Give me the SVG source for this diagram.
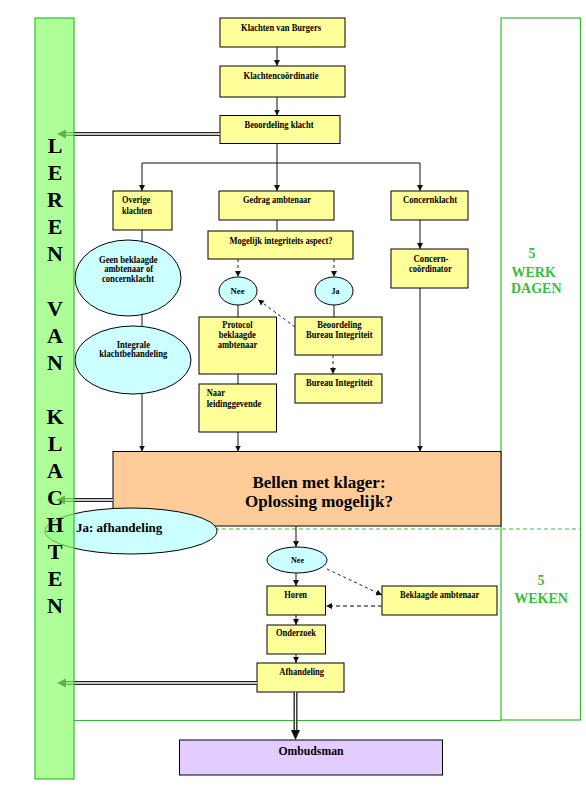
<svg xmlns="http://www.w3.org/2000/svg" width="586" height="787" viewBox="0 0 586 787">
<defs>
<marker id="ah" markerUnits="userSpaceOnUse" markerWidth="7" markerHeight="7" refX="6" refY="3.5" orient="auto"><path d="M0,0.5 L6,3.5 L0,6.5 z" fill="#111"/></marker>
<style>
.bx{fill:#FFFF99;stroke:#000;stroke-width:1}
.el{fill:#CCFFFF;stroke:#000;stroke-width:1}
.t{font-family:"Liberation Serif","Times New Roman",serif;font-weight:bold;font-size:10px;fill:#000}
.m{text-anchor:middle}
.c{stroke:#111;stroke-width:1;fill:none}
.d{stroke:#222;stroke-width:1;fill:none;stroke-dasharray:3,3}
.big{font-family:"Liberation Serif","Times New Roman",serif;font-weight:bold;fill:#000}
.g{font-family:"Liberation Serif","Times New Roman",serif;font-weight:bold;font-size:14px;fill:#3DBB3D}
.dl{stroke:#222;stroke-width:4;fill:none}
.dw{stroke:#fff;stroke-width:1.3;fill:none}
</style>
</defs>
<rect width="586" height="787" fill="#fff"/>

<g id="frame">
<rect x="501" y="18" width="79.5" height="702" fill="none" stroke="#33BB33" stroke-width="1.2"/>
<line x1="74" y1="720.5" x2="501" y2="720.5" stroke="#33BB33" stroke-width="1.2"/>
<line x1="75" y1="529" x2="580" y2="529" stroke="#88CC88" stroke-width="1.5" stroke-dasharray="4,3"/>
<text class="g" x="528.5" y="258">5</text>
<text class="g" x="511.5" y="276.5">WERK</text>
<text class="g" x="511" y="293">DAGEN</text>
<text class="g m" x="541" y="585">5</text>
<text class="g m" x="541" y="602.5">WEKEN</text>
</g>

<g id="n_burgers"><rect class="bx" x="220" y="18" width="125" height="29"/><text class="t m" x="281" y="31" textLength="80" lengthAdjust="spacingAndGlyphs">Klachten van Burgers</text></g>
<g id="n_coord"><rect class="bx" x="220" y="66" width="125" height="31"/><text class="t m" x="281" y="79" textLength="75" lengthAdjust="spacingAndGlyphs">Klachtencoördinatie</text></g>
<g id="n_beoord"><rect class="bx" x="220" y="115.5" width="120" height="28"/><text class="t m" x="279" y="128" textLength="69" lengthAdjust="spacingAndGlyphs">Beoordeling klacht</text></g>
<g id="n_overige"><rect class="bx" x="113" y="191" width="59" height="39"/><text class="t" x="122" y="203" textLength="28.3" lengthAdjust="spacingAndGlyphs">Overige</text><text class="t" x="122" y="214" textLength="30" lengthAdjust="spacingAndGlyphs">klachten</text></g>
<g id="n_gedrag"><rect class="bx" x="219" y="191" width="115" height="29"/><text class="t m" x="277" y="203" textLength="68" lengthAdjust="spacingAndGlyphs">Gedrag ambtenaar</text></g>
<g id="n_concern"><rect class="bx" x="391" y="191" width="77" height="29"/><text class="t m" x="430" y="203" textLength="54" lengthAdjust="spacingAndGlyphs">Concernklacht</text></g>
<g id="n_mogelijk"><rect class="bx" x="208" y="231" width="145" height="28"/><text class="t m" x="281" y="243.5" textLength="103" lengthAdjust="spacingAndGlyphs">Mogelijk integriteits aspect?</text></g>
<g id="n_geen"><ellipse class="el" cx="128" cy="278" rx="53" ry="38"/><text class="t m" x="128.3" y="262.7" textLength="58.7" lengthAdjust="spacingAndGlyphs">Geen beklaagde</text><text class="t m" x="128.7" y="272.2" textLength="49" lengthAdjust="spacingAndGlyphs">ambtenaar of</text><text class="t m" x="128" y="282" textLength="52" lengthAdjust="spacingAndGlyphs">concernklacht</text></g>
<g id="n_nee1"><ellipse class="el" cx="238" cy="291" rx="19" ry="14"/><text class="t m" x="237.5" y="293.5" style="font-size:9px" textLength="14" lengthAdjust="spacingAndGlyphs">Nee</text></g>
<g id="n_ja"><ellipse class="el" cx="334" cy="291" rx="19" ry="14"/><text class="t m" x="335.5" y="293.5" style="font-size:8px">Ja</text></g>
<g id="n_concoord"><rect class="bx" x="391" y="249" width="77" height="39"/><text class="t m" x="431" y="262" textLength="35" lengthAdjust="spacingAndGlyphs">Concern-</text><text class="t m" x="430.3" y="271.5" textLength="42.7" lengthAdjust="spacingAndGlyphs">coördinator</text></g>
<g id="n_integrale"><ellipse class="el" cx="133" cy="360" rx="58" ry="34"/><text class="t m" x="133.3" y="347.7" textLength="33.3" lengthAdjust="spacingAndGlyphs">Integrale</text><text class="t m" x="133.3" y="357.3" textLength="68" lengthAdjust="spacingAndGlyphs">klachtbehandeling</text></g>
<g id="n_protocol"><rect class="bx" x="199" y="317" width="77.5" height="57"/><text class="t m" x="237.5" y="328.3" textLength="30.3" lengthAdjust="spacingAndGlyphs">Protocol</text><text class="t m" x="237.3" y="338.3" textLength="37.3" lengthAdjust="spacingAndGlyphs">beklaagde</text><text class="t m" x="237.5" y="348.3" textLength="39.7" lengthAdjust="spacingAndGlyphs">ambtenaar</text></g>
<g id="n_naar"><rect class="bx" x="199" y="384" width="77.5" height="48"/><text class="t" x="206.7" y="396.3" textLength="18.3" lengthAdjust="spacingAndGlyphs">Naar</text><text class="t" x="206.7" y="406.5" textLength="54.7" lengthAdjust="spacingAndGlyphs">leidinggevende</text></g>
<g id="n_beoordbi"><rect class="bx" x="295" y="317" width="87" height="38"/><text class="t m" x="339.5" y="328.3" textLength="44.3" lengthAdjust="spacingAndGlyphs">Beoordeling</text><text class="t m" x="339.3" y="338.3" textLength="66.7" lengthAdjust="spacingAndGlyphs">Bureau Integriteit</text></g>
<g id="n_bi"><rect class="bx" x="295" y="374" width="87" height="29"/><text class="t m" x="339.3" y="386" textLength="66.7" lengthAdjust="spacingAndGlyphs">Bureau Integriteit</text></g>
<g id="n_bellen"><rect x="113" y="451.5" width="388" height="74.5" fill="#FFCC99" stroke="#000" stroke-width="1"/><text class="big m" x="319" y="487.5" font-size="17">Bellen met klager:</text><text class="big m" x="319" y="507" font-size="17">Oplossing mogelijk?</text></g>
<g id="n_ja_afh"><ellipse class="el" cx="131" cy="531" rx="86" ry="23"/><text class="big" x="76" y="532" font-size="13">Ja: afhandeling</text></g>
<g id="n_nee2"><ellipse class="el" cx="297" cy="560" rx="30" ry="13"/><text class="t m" x="297.5" y="562.5" style="font-size:9px" textLength="13" lengthAdjust="spacingAndGlyphs">Nee</text></g>
<g id="n_horen"><rect class="bx" x="267" y="586" width="58.5" height="29"/><text class="t m" x="295.7" y="597.7" textLength="22.7" lengthAdjust="spacingAndGlyphs">Horen</text></g>
<g id="n_beklaagde"><rect class="bx" x="382" y="586" width="115" height="29"/><text class="t m" x="439.7" y="597.7" textLength="79.3" lengthAdjust="spacingAndGlyphs">Beklaagde ambtenaar</text></g>
<g id="n_onderzoek"><rect class="bx" x="267" y="625" width="58.5" height="29"/><text class="t m" x="296" y="635.7" textLength="40" lengthAdjust="spacingAndGlyphs">Onderzoek</text></g>
<g id="n_afhandeling"><rect class="bx" x="257" y="663" width="87" height="29"/><text class="t m" x="301.7" y="675" textLength="44.7" lengthAdjust="spacingAndGlyphs">Afhandeling</text></g>
<g id="n_ombudsman"><rect x="179.5" y="740" width="263" height="35" fill="#E3CCFF" stroke="#000" stroke-width="1"/><text class="big m" x="311" y="755" font-size="13" textLength="65" lengthAdjust="spacingAndGlyphs">Ombudsman</text></g>

<g id="connectors">
<line class="c" x1="277" y1="47" x2="277" y2="66" marker-end="url(#ah)"/>
<line class="c" x1="277" y1="97" x2="277" y2="115.5" marker-end="url(#ah)"/>
<line class="c" x1="277" y1="143.5" x2="277" y2="163"/>
<line class="c" x1="142" y1="163" x2="420" y2="163"/>
<line class="c" x1="142" y1="163" x2="142" y2="191" marker-end="url(#ah)"/>
<line class="c" x1="277" y1="163" x2="277" y2="191" marker-end="url(#ah)"/>
<line class="c" x1="420" y1="163" x2="420" y2="191" marker-end="url(#ah)"/>
<line class="c" x1="277" y1="220" x2="277" y2="231"/>
<line class="c" x1="142" y1="230" x2="142" y2="241.4"/>
<line class="c" x1="142" y1="314.6" x2="142" y2="326.4"/>
<line class="c" x1="142" y1="393.6" x2="142" y2="451.5" marker-end="url(#ah)"/>
<line class="d" x1="238" y1="259" x2="238" y2="277" marker-end="url(#ah)"/>
<line class="d" x1="334" y1="259" x2="334" y2="277" marker-end="url(#ah)"/>
<line class="c" x1="238" y1="305" x2="238" y2="317"/>
<line class="c" x1="334" y1="305" x2="334" y2="317"/>
<line class="c" x1="238" y1="374" x2="238" y2="384"/>
<line class="c" x1="238" y1="432" x2="238" y2="451.5" marker-end="url(#ah)"/>
<line class="d" x1="295" y1="327" x2="258" y2="299.5" marker-end="url(#ah)"/>
<line class="d" x1="333" y1="355" x2="333" y2="374" marker-end="url(#ah)"/>
<line class="c" x1="420" y1="220" x2="420" y2="249" marker-end="url(#ah)"/>
<line class="c" x1="420" y1="288" x2="420" y2="451.5" marker-end="url(#ah)"/>
<line class="c" x1="296" y1="526" x2="296" y2="547" marker-end="url(#ah)"/>
<line class="c" x1="296" y1="573" x2="296" y2="586" marker-end="url(#ah)"/>
<line class="d" x1="327" y1="569" x2="382" y2="595" marker-end="url(#ah)"/>
<line x1="382" y1="606" x2="326" y2="606" stroke="#555" stroke-width="1.5" stroke-dasharray="4,3" marker-end="url(#ah)"/>
<line class="c" x1="296" y1="615" x2="296" y2="625" marker-end="url(#ah)"/>
<line class="c" x1="296" y1="654" x2="296" y2="663" marker-end="url(#ah)"/>
<line class="dl" x1="220" y1="134" x2="64" y2="134"/><line class="dw" x1="220" y1="134" x2="66" y2="134"/><polygon points="57,134 66,129.5 66,138.5" fill="#111"/>
<line class="dl" x1="113" y1="500" x2="63" y2="500"/><line class="dw" x1="113" y1="500" x2="65" y2="500"/><polygon points="56,500 65,495.5 65,504.5" fill="#111"/>
<line class="dl" x1="257" y1="683" x2="64" y2="683" stroke="#555"/><line class="dw" x1="257" y1="683" x2="66" y2="683" stroke="#999"/><polygon points="57,683 66,678.5 66,687.5" fill="#111"/>
<line class="dl" x1="295.5" y1="692" x2="295.5" y2="732"/><line class="dw" x1="295.5" y1="692" x2="295.5" y2="730"/><polygon points="295.5,740 291,730 300,730" fill="#111"/>
</g>

<g id="bar">
<rect x="35" y="18" width="39" height="761" fill="#88FF66" fill-opacity="0.68" stroke="#33BB33" stroke-width="1.2"/>
<g class="big m" font-size="22">
<text x="55" y="153">L</text><text x="55" y="180">E</text><text x="55" y="207">R</text><text x="55" y="234">E</text><text x="55" y="261">N</text>
<text x="55" y="316">V</text><text x="55" y="343">A</text><text x="55" y="370">N</text>
<text x="55" y="424">K</text><text x="55" y="451">L</text><text x="55" y="478">A</text><text x="55" y="505">C</text><text x="55" y="532">H</text><text x="55" y="559">T</text><text x="55" y="586">E</text><text x="55" y="613">N</text>
</g>
</g>
</svg>
